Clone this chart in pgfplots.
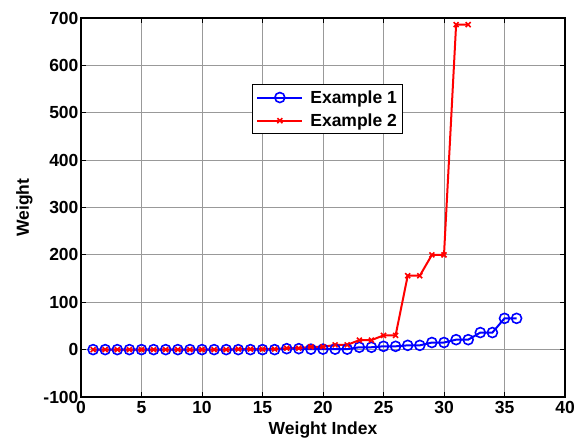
\documentclass[border=0pt]{standalone}
\usepackage{pgfplots}
\pgfplotsset{compat=1.18}
\usetikzlibrary{calc}
\usepackage{fontspec}
\setmainfont{Liberation Sans}
\begin{document}
\begin{tikzpicture}
\begin{axis}[
  name=main,
  scale only axis,
  width=484pt, height=379pt,
  xmin=0, xmax=40, ymin=-100, ymax=700,
  xtick={0,5,...,40}, ytick={-100,0,...,700},
  grid=major,
  major grid style={gray!80, line width=0.9pt},
  axis line style={line width=1.3pt},
  tick align=inside,
  major tick length=5pt,
  tick style={black, line width=0.9pt},
  /pgf/number format/assume math mode=true,
  ticklabel style={font=\fontsize{17.5}{20}\selectfont\bfseries},
  xticklabel style={yshift=-1pt},
  yticklabel style={xshift=1pt},
  label style={font=\fontsize{17.5}{20}\selectfont\bfseries},
  xlabel={Weight Index},
  ylabel={Weight},
  xlabel style={yshift=-1pt},
  ylabel style={yshift=4pt},
  legend style={at={(0.353,0.826)}, anchor=north west, draw=black, line width=1pt,
    font=\fontsize{17.5}{20}\selectfont\bfseries, inner sep=4pt, row sep=5pt},
  legend cell align=left,
  legend image code/.code={\draw[mark repeat=2,mark phase=2] plot coordinates {(0pt,0pt) (22.5pt,0pt) (45pt,0pt)};},
  /tikz/every odd column/.append style={column sep=5pt},
]
\addplot[blue, line width=2pt, mark=o, mark size=5pt, mark options={line width=1.6pt}] coordinates {
(1,0)(2,0)(3,0)(4,0)(5,0)(6,0)(7,0)(8,0)(9,0)(10,0)(11,0)(12,0)(13,0)(14,0)(15,0)(16,0)
(17,2)(18,2)(19,1)(20,1)(21,1)(22,1)(23,5)(24,5)(25,7)(26,7)(27,9)(28,9)(29,15)(30,15)
(31,21)(32,21)(33,36)(34,36)(35,66)(36,66)};
\addlegendentry{Example 1}
\addplot[red, line width=2pt, mark=x, mark size=3.5pt, mark options={line width=1.6pt}] coordinates {
(1,0)(2,0)(3,0)(4,0)(5,0)(6,0)(7,0)(8,0)(9,0)(10,0)(11,0)(12,0)(13,1)(14,1)(15,1)(16,1)
(17,3)(18,3)(19,6)(20,6)(21,10)(22,10)(23,20)(24,20)(25,30)(26,30)(27,156)(28,156)
(29,200)(30,200)(31,686)(32,686)};
\addlegendentry{Example 2}
\end{axis}
\pgfresetboundingbox
\path ($(main.south west)+(-81pt,-46pt)$) rectangle ($(main.north east)+(12pt,18pt)$);
\end{tikzpicture}
\end{document}
